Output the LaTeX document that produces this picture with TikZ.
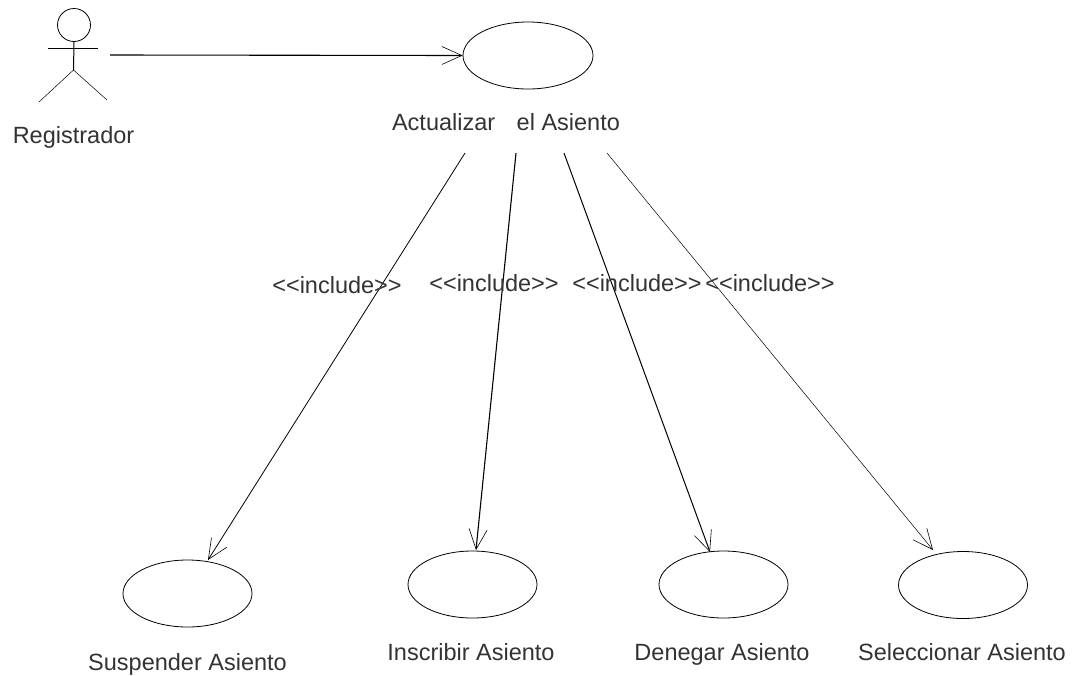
\documentclass[tikz,border=0pt]{standalone}
\usepackage{fontspec}
\usetikzlibrary{shapes.geometric,arrows.meta}
\setmainfont{Liberation Sans}
\begin{document}
\begin{tikzpicture}[x=1pt,y=-1pt,
  lab/.style={font=\fontsize{23.5}{28}\selectfont,text=black!80,inner sep=0pt,anchor=base},
  uc/.style={draw,ellipse,minimum width=129pt,minimum height=67pt,inner sep=0pt},
  oa/.style={-{Straight Barb[length=20pt,width=18pt,line width=0.6pt]}},
  ]
\useasboundingbox (0,0) rectangle (1078,675);
\fill[white] (0,0) rectangle (1078,675);
\tikzset{every path/.append style={line width=0.8pt}}
% actor
\node[draw,circle,minimum size=33pt,inner sep=0pt] (head) at (74,25) {};
\coordinate (hip) at (73.5,70);
\coordinate (armL) at (48,48); \coordinate (armR) at (98,48);
\coordinate (legL) at (39,102); \coordinate (legR) at (107,100);
\draw[line width=1pt] (head.south) -- (hip);
\draw (armL) -- (armR);
\draw[line width=0.5pt] (legL) -- (hip) -- (legR);
\node[lab] (reg) at (73.5,143) {Registrador};
% use cases
\node[uc,minimum width=130pt] (a) at (528,55.5) {};
\node[uc] (s) at (187.5,593.5) {};
\node[uc] (i) at (472.5,584.5) {};
\node[uc] (d) at (723.5,584.5) {};
\node[uc] (e) at (963,585) {};
\node[lab] (al) at (506,130) {Actualizar\hspace{15pt} el Asiento};
\node[lab] (sl) at (187.5,670) {Suspender Asiento};
\node[lab] (il) at (471,660) {Inscribir Asiento};
\node[lab] (dl) at (722,660) {Denegar Asiento};
\node[lab] (el) at (962,660) {Seleccionar Asiento};
% connectors
\coordinate (start) at (110,55);
\coordinate (t1) at (465,153); \coordinate (t2) at (516,153);
\coordinate (t3) at (564,153); \coordinate (t4) at (607,153);
\coordinate (e1) at (208,560); \coordinate (e2) at (476,550);
\coordinate (e3) at (710,552); \coordinate (e4) at (933,550);
\draw[oa,line width=1.1pt] (start) -- (a.west);
\draw[oa] (t1) -- (e1);
\draw[oa,line width=1.1pt] (t2) -- (e2);
\draw[oa,line width=1pt] (t3) -- (e3);
\draw[oa,line width=0.5pt] (t4) -- (e4);
\node[lab] (l1) at (337,293) {<{}<include>{}>};
\node[lab] (l2) at (494,291) {<{}<include>{}>};
\node[lab] (l3) at (637,291) {<{}<include>{}>};
\node[lab] (l4) at (770,291) {<{}<include>{}>};
\end{tikzpicture}
\end{document}
